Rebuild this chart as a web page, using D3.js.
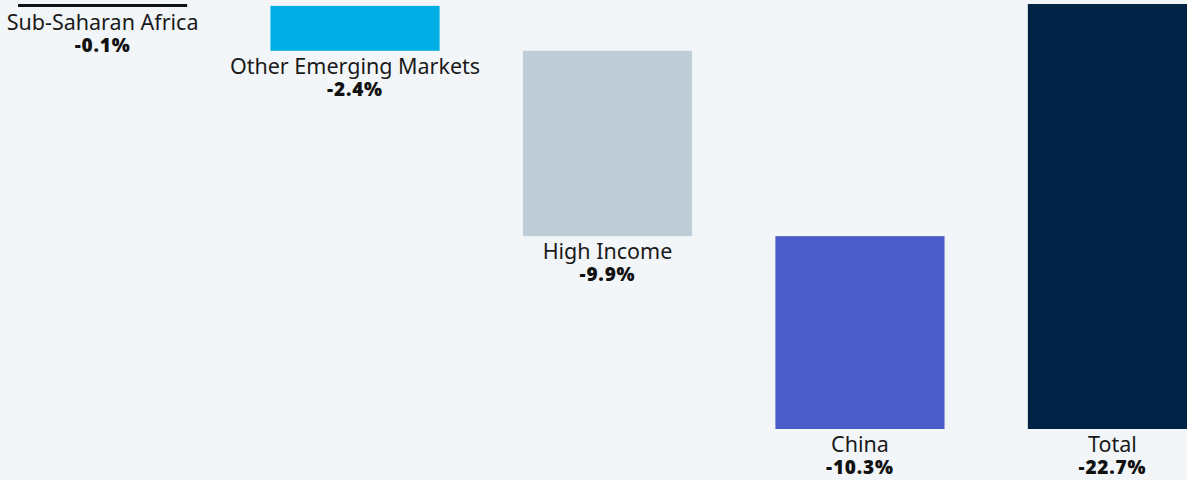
<!DOCTYPE html>
<html>
<head>
<meta charset="utf-8">
<script src="https://cdn.jsdelivr.net/npm/d3@7"></script>
<style>
  html, body { margin: 0; padding: 0; background: #f3f6f8; overflow: hidden; }
  svg { display: block; }
</style>
</head>
<body>
<svg id="chart" width="1187" height="480"></svg>
<script>
const categories = ["Sub-Saharan Africa", "Other Emerging Markets", "High Income", "China", "Total"];
const values = [-0.1, -2.4, -9.9, -10.3, -22.7];
const valueLabels = ["-0.1%", "-2.4%", "-9.9%", "-10.3%", "-22.7%"];
const colors = ["#111111", "#00aee6", "#bfcdd6", "#4a5cc8", "#002244"];
const isTotal = [false, false, false, false, true];

const svg = d3.select("#chart");

// waterfall start/end
let running = 0;
const data = categories.map((c, i) => {
  let start, end;
  if (isTotal[i]) { start = 0; end = values[i]; }
  else { start = running; end = running + values[i]; running = end; }
  return { cat: c, start, end, label: valueLabels[i], color: colors[i] };
});

const x = d3.scaleBand()
  .domain(categories)
  .range([18, 1197])
  .paddingInner(0.33)
  .paddingOuter(0);

const y = d3.scaleLinear()
  .domain([0, -22.7])
  .range([4, 429]);

const minH = 3;

const g = svg.append("g");

g.selectAll("rect.bar")
  .data(data)
  .enter().append("rect")
  .attr("class", "bar")
  .attr("x", d => x(d.cat))
  .attr("width", x.bandwidth())
  .attr("y", d => y(Math.max(d.start, d.end)))
  .attr("height", d => Math.max(minH, Math.abs(y(d.end) - y(d.start))))
  .attr("fill", d => d.color);

const bottom = d => y(Math.max(d.start, d.end)) + Math.max(minH, Math.abs(y(d.end) - y(d.start)));

g.selectAll("text.cat")
  .data(data)
  .enter().append("text")
  .attr("class", "cat")
  .attr("x", d => x(d.cat) + x.bandwidth() / 2)
  .attr("y", d => bottom(d) + 23)
  .attr("text-anchor", "middle")
  .attr("font-family", "'Noto Sans', 'Open Sans', sans-serif")
  .attr("font-size", 21.5)
  .attr("fill", "#1a1a1a")
  .text(d => d.cat);

g.selectAll("text.val")
  .data(data)
  .enter().append("text")
  .attr("class", "val")
  .attr("x", d => x(d.cat) + x.bandwidth() / 2)
  .attr("y", d => bottom(d) + 45)
  .attr("text-anchor", "middle")
  .attr("font-family", "'Open Sans', Lato, sans-serif")
  .attr("font-weight", 800)
  .attr("font-size", 19)
  .attr("letter-spacing", 0.8)
  .attr("fill", "#111111")
  .text(d => d.label);
</script>
</body>
</html>
